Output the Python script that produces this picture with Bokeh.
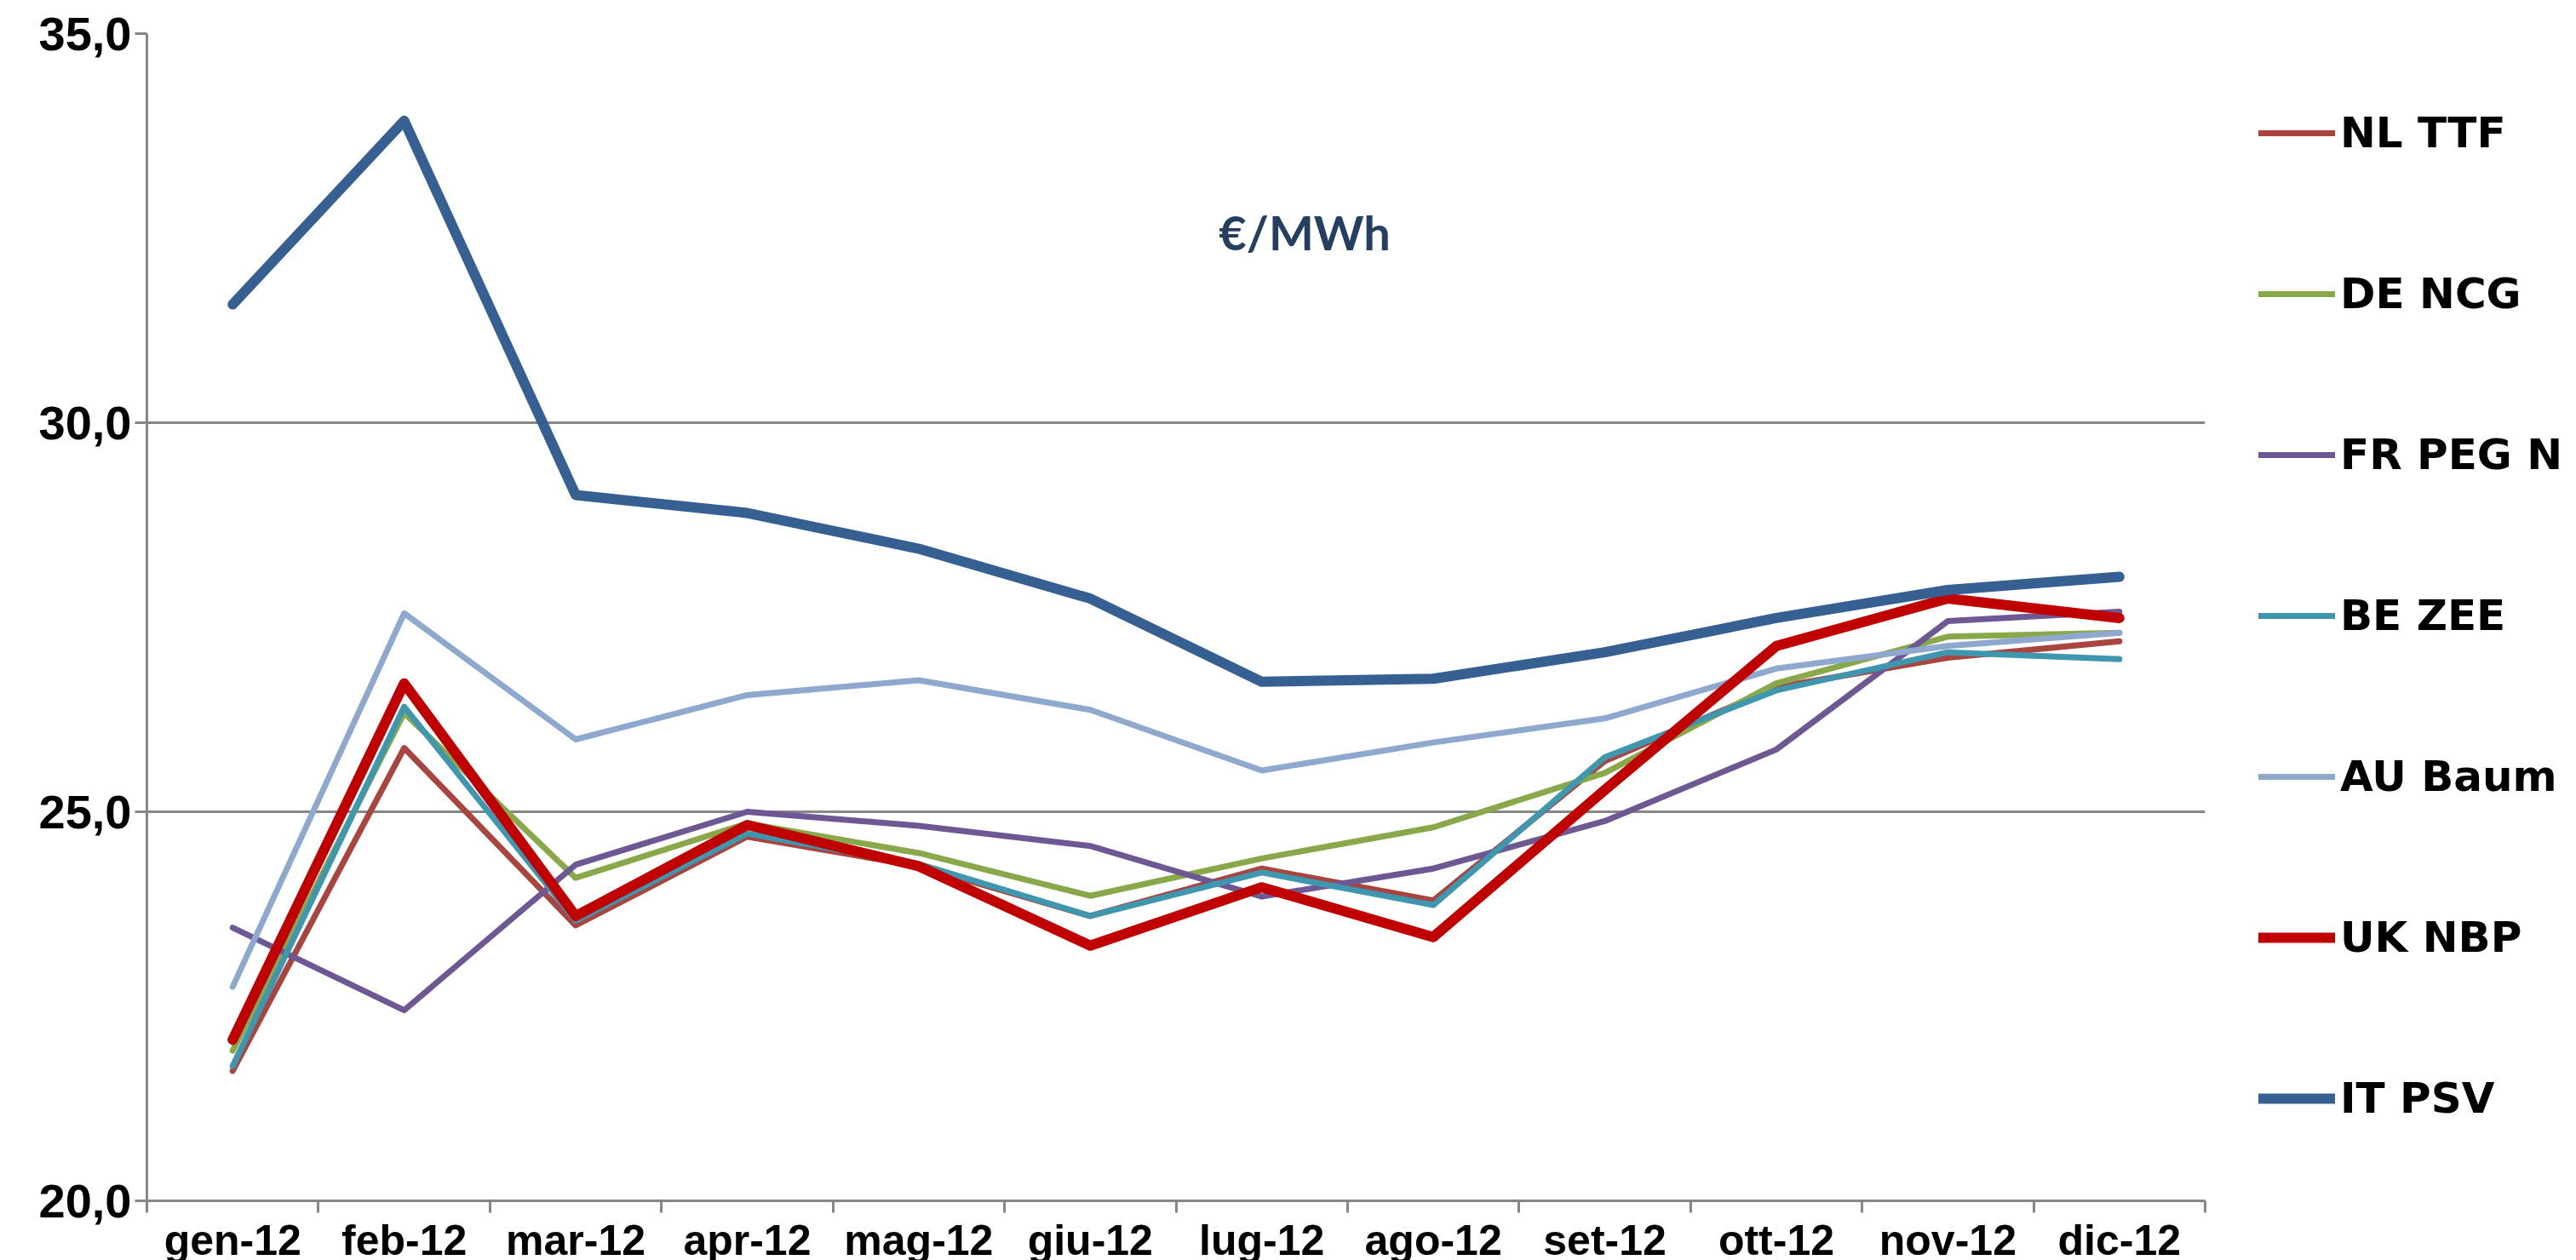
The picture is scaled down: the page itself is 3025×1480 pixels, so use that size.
from bokeh.plotting import figure
from bokeh.models import Range1d, FixedTicker, Legend, LegendItem, Label
from bokeh.embed import file_html
from bokeh.resources import INLINE
import numpy as np

months = ["gen-12", "feb-12", "mar-12", "apr-12", "mag-12", "giu-12",
          "lug-12", "ago-12", "set-12", "ott-12", "nov-12", "dic-12"]

y_ticks = [20, 25, 30, 35]
y_tick_labels = ["20,0", "25,0", "30,0", "35,0"]

nl_ttf = [21.67, 25.82, 23.54, 24.68, 24.30, 23.66, 24.27, 23.86, 25.65, 26.60, 26.98, 27.19]
de_ncg = [21.93, 26.27, 24.15, 24.85, 24.47, 23.92, 24.40, 24.80, 25.50, 26.65, 27.25, 27.30]
fr_peg = [23.51, 22.45, 24.32, 25.00, 24.82, 24.56, 23.91, 24.27, 24.88, 25.80, 27.45, 27.57]
be_zee = [21.73, 26.35, 23.60, 24.72, 24.33, 23.66, 24.22, 23.80, 25.70, 26.56, 27.05, 26.96]
au_baum = [22.75, 27.55, 25.93, 26.50, 26.69, 26.31, 25.53, 25.89, 26.20, 26.84, 27.13, 27.30]
uk_nbp = [22.07, 26.65, 23.66, 24.83, 24.30, 23.28, 24.03, 23.39, 25.28, 27.13, 27.74, 27.49]
it_psv = [31.52, 33.88, 29.07, 28.84, 28.38, 27.74, 26.67, 26.71, 27.05, 27.49, 27.85, 28.02]

series_names = ["NL TTF", "DE NCG", "FR PEG N", "BE ZEE", "AU Baum", "UK NBP", "IT PSV"]
series_values = [nl_ttf, de_ncg, fr_peg, be_zee, au_baum, uk_nbp, it_psv]
series_colors = ["#A9443F", "#88A84A", "#6E5893", "#3E96AF", "#8EA8CE", "#C00000", "#366092"]
series_widths = [7, 7, 7, 7, 7, 12, 12]

unit_label = "€/MWh"

x = np.arange(len(months)) + 0.5

p = figure(frame_width=2417, frame_height=1371,
           x_range=Range1d(0, len(months)), y_range=Range1d(y_ticks[0], y_ticks[-1]),
           min_border_left=172, min_border_right=420, min_border_top=39, min_border_bottom=0,
           output_backend="svg", toolbar_location=None)
p.outline_line_color = None
p.background_fill_color = "white"
p.border_fill_color = "white"

# x axis: labels at category centres, tick marks at category boundaries
p.xaxis.ticker = FixedTicker(ticks=list(x), minor_ticks=list(range(len(months) + 1)))
p.xaxis.major_label_overrides = {float(v): m for v, m in zip(x, months)}
p.xaxis.major_tick_out = 0
p.xaxis.major_tick_in = 0
p.xaxis.minor_tick_out = 14
p.xaxis.minor_tick_in = 0
p.xaxis.minor_tick_line_color = "#868686"
p.xaxis.minor_tick_line_width = 3
p.xaxis.major_label_standoff = 4
p.xaxis.major_label_text_font = "Liberation Sans"
p.xaxis.major_label_text_font_style = "bold"
p.xaxis.major_label_text_font_size = "50px"
p.xaxis.major_label_text_color = "black"
p.xaxis.axis_line_color = "#868686"
p.xaxis.axis_line_width = 3

p.yaxis.ticker = FixedTicker(ticks=y_ticks, minor_ticks=[])
p.yaxis.major_label_overrides = {t: l for t, l in zip(y_ticks, y_tick_labels)}
p.yaxis.major_tick_out = 14
p.yaxis.major_tick_in = 0
p.yaxis.major_tick_line_color = "#868686"
p.yaxis.major_tick_line_width = 3
p.yaxis.minor_tick_line_color = None
p.yaxis.major_label_standoff = 4
p.yaxis.major_label_text_font = "Liberation Sans"
p.yaxis.major_label_text_font_style = "bold"
p.yaxis.major_label_text_font_size = "56px"
p.yaxis.major_label_text_color = "black"
p.yaxis.axis_line_color = "#868686"
p.yaxis.axis_line_width = 3

p.xgrid.grid_line_color = None
p.ygrid.grid_line_color = "#868686"
p.ygrid.grid_line_width = 3

items = []
for name, vals, col, w in zip(series_names, series_values, series_colors, series_widths):
    r = p.line(x, vals, line_color=col, line_width=w, line_join="round", line_cap="round")
    items.append(LegendItem(label=name, renderers=[r]))

legend = Legend(items=items, location=(63, 91), orientation="vertical",
                glyph_width=90, glyph_height=40, label_height=40, label_standoff=6,
                spacing=131, padding=0, margin=0, border_line_color=None,
                background_fill_alpha=0,
                label_text_font="DejaVu Sans", label_text_font_style="bold",
                label_text_font_size="50px", label_text_color="black",
                label_text_baseline="middle")
p.add_layout(legend, "right")

p.add_layout(Label(x=6.75, y=32.45, text=unit_label, text_align="center",
                   text_baseline="alphabetic", text_font="Lato", text_font_style="bold",
                   text_font_size="56px", text_color="#243F60"))

open("out.html", "w").write(file_html(p, INLINE))
